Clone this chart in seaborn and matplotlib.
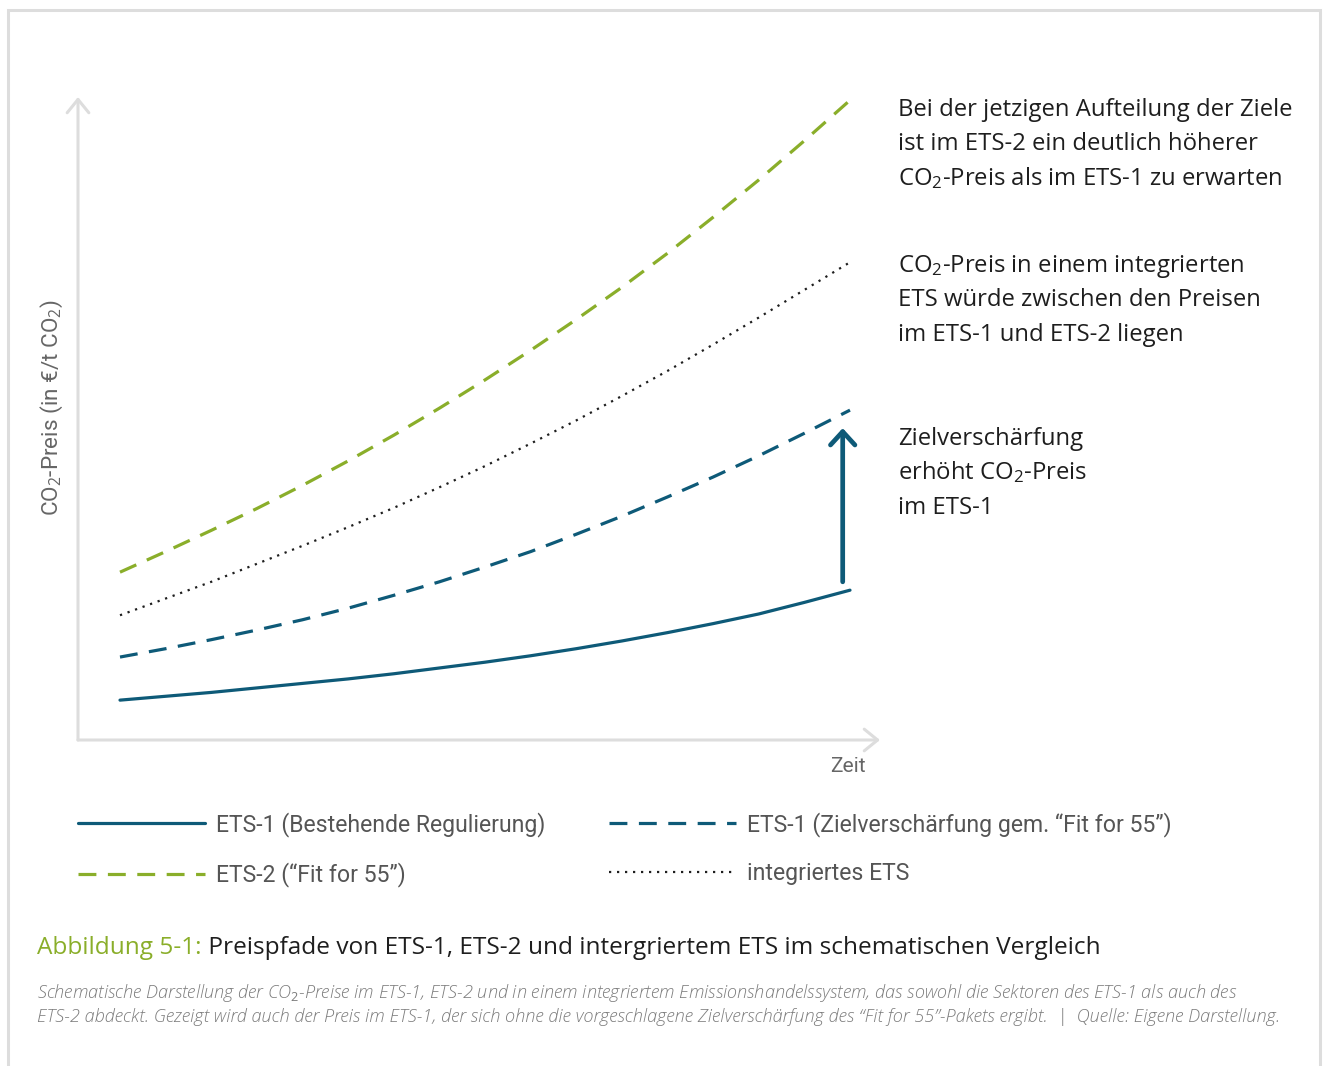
import matplotlib
matplotlib.use("Agg")
import matplotlib.pyplot as plt
import seaborn as sns
from matplotlib.patches import Rectangle

# Schematic price paths (time steps, price in arbitrary units)
zeit = [0, 0.625, 1.25, 1.875, 2.5, 3.125, 3.75, 4.375, 5,
        5.625, 6.25, 6.875, 7.5, 8.125, 8.75, 9.375, 10]
ets1_bestehend = [6.2, 6.8, 7.4, 8.1, 8.8, 9.5, 10.3, 11.2, 12.1,
                  13.1, 14.2, 15.4, 16.7, 18.1, 19.6, 21.4, 23.3]
ets1_fit55 = [12.9, 14.2, 15.6, 17.1, 18.7, 20.5, 22.5, 24.6, 26.9,
              29.3, 32.0, 34.8, 37.8, 40.9, 44.2, 47.7, 51.3]
integriert = [19.4, 22.0, 24.6, 27.4, 30.2, 33.1, 36.1, 39.3, 42.6,
              46.1, 49.7, 53.5, 57.4, 61.5, 65.7, 70.0, 74.3]
ets2_fit55 = [26.1, 29.3, 32.6, 36.0, 39.6, 43.4, 47.4, 51.6, 56.0,
              60.6, 65.4, 70.4, 75.7, 81.3, 87.1, 93.2, 99.5]

labels = [
    "ETS-1 (Bestehende Regulierung)",
    "ETS-2 (\u201cFit for 55\u201d)",
    "ETS-1 (Zielversch\u00e4rfung gem. \u201cFit for 55\u201d)",
    "integriertes ETS",
]

BLAU = "#0e5a78"
GRUEN = "#8aae2a"
SCHWARZ = "#1e1e1e"
GRAU = "#666666"
RAHMEN = "#dddddd"

sns.set_theme(style="white")
plt.rcParams["font.family"] = ["Roboto", "DejaVu Sans"]
plt.rcParams["mathtext.fontset"] = "custom"
plt.rcParams["mathtext.rm"] = "Open Sans"
plt.rcParams["mathtext.it"] = "Open Sans:italic"

W, H = 1324, 1066
fig = plt.figure(figsize=(W / 100, H / 100), dpi=100)
fig.patch.set_facecolor("white")


def fx(px):
    return px / W


def fy(py):
    return 1 - py / H


ax = fig.add_axes([fx(78), fy(740), fx(880) - fx(78), fy(97) - fy(740)])
ax.patch.set_alpha(0)

l_best = sns.lineplot(x=zeit, y=ets1_bestehend, ax=ax, color=BLAU, lw=2.3,
                      label=labels[0], clip_on=False).get_lines()[-1]
l_ets2 = sns.lineplot(x=zeit, y=ets2_fit55, ax=ax, color=GRUEN, lw=2.3,
                      linestyle=(0, (5.6, 3.6)), label=labels[1],
                      clip_on=False).get_lines()[-1]
l_fit = sns.lineplot(x=zeit, y=ets1_fit55, ax=ax, color=BLAU, lw=2.3,
                     linestyle=(0, (5.6, 3.6)), label=labels[2],
                     clip_on=False).get_lines()[-1]
l_int = sns.lineplot(x=zeit, y=integriert, ax=ax, color=SCHWARZ, lw=1.6,
                     linestyle=(0, (1, 2.6)), label=labels[3],
                     clip_on=False).get_lines()[-1]

ax.set_xlim(-42 / 73, 10 + 30 / 73)
ax.set_ylim(0, 100)
ax.set_xticks([])
ax.set_yticks([])
ax.set_xlabel("")
ax.set_ylabel("")
sns.despine(ax=ax, left=True, bottom=True)

# axis arrows
achse = dict(arrowstyle="->,head_length=0.8,head_width=0.65", color=RAHMEN,
             lw=2.2, shrinkA=0, shrinkB=0, mutation_scale=12)
ax.annotate("", xy=(1, 0), xytext=(0, 0), xycoords="axes fraction",
            arrowprops=achse, annotation_clip=False)
ax.annotate("", xy=(0, 1), xytext=(0, 0), xycoords="axes fraction",
            arrowprops=achse, annotation_clip=False)

# arrow: tightening raises the ETS-1 price
x_pfeil = zeit[-1] - 0.1
ax.annotate("", xy=(x_pfeil, ets1_fit55[-1] - 2.8),
            xytext=(x_pfeil, ets1_bestehend[-1] + 1.3),
            arrowprops=dict(arrowstyle="->,head_length=0.6,head_width=0.55",
                            color=BLAU, lw=3.4, shrinkA=0, shrinkB=0,
                            mutation_scale=16, capstyle="round",
                            joinstyle="round"),
            annotation_clip=False)

# legend
leg = ax.legend([l_best, l_ets2, l_fit, l_int], labels, loc="upper left",
                bbox_to_anchor=(fx(78), fy(812)), bbox_transform=fig.transFigure,
                ncol=2, frameon=False, fontsize=16.6, handlelength=5.5,
                handletextpad=0.5, columnspacing=2.75, labelspacing=1.1,
                borderpad=0, borderaxespad=0, labelcolor="#555555")

# axis labels
fig.text(fx(52), fy(408), "CO$_2$-Preis (in \u20ac/t CO$_2$)", rotation=90,
         ha="center", va="center", fontsize=16.2, color=GRAU)
fig.text(fx(848), fy(766), "Zeit", ha="center", va="center", fontsize=15,
         color=GRAU)

# explanations on the right, one text per line
blocks = [
    (["Bei der jetzigen Aufteilung der Ziele",
      "ist im ETS-2 ein deutlich h\u00f6herer",
      "CO$_2$-Preis als im ETS-1 zu erwarten"], 116),
    (["CO$_2$-Preis in einem integrierten",
      "ETS w\u00fcrde zwischen den Preisen",
      "im ETS-1 und ETS-2 liegen"], 272),
    (["Zielversch\u00e4rfung",
      "erh\u00f6ht CO$_2$-Preis",
      "im ETS-1"], 445),
]
for zeilen, y0 in blocks:
    for i, z in enumerate(zeilen):
        fig.text(fx(898), fy(y0 + 34.5 * i), z, fontsize=17.2,
                 family="Open Sans", color=SCHWARZ, va="baseline", ha="left")

# caption
t1 = fig.text(fx(37), fy(948), "Abbildung 5-1:", color=GRUEN, fontsize=17.6,
              family="Open Sans", va="center", ha="left")
ax.annotate(" Preispfade von ETS-1, ETS-2 und intergriertem ETS im "
            "schematischen Vergleich", xy=(1, 0), xycoords=t1,
            va="bottom", ha="left", color=SCHWARZ, fontsize=17.6,
            family="Open Sans", annotation_clip=False)

fuss = dict(fontsize=13.1, family="Open Sans", style="italic",
            weight="light", color="#7c7c7c", va="center", ha="left")
fig.text(fx(37), fy(993),
         "Schematische Darstellung der CO$_2$-Preise im ETS-1, ETS-2 und in "
         "einem integriertem Emissionshandelssystem, das sowohl die Sektoren "
         "des ETS-1 als auch des", **fuss)
fig.text(fx(37), fy(1017),
         "ETS-2 abdeckt. Gezeigt wird auch der Preis im ETS-1, der sich ohne "
         "die vorgeschlagene Zielversch\u00e4rfung des \u201cFit for 55\u201d-"
         "Pakets ergibt.  |  Quelle: Eigene Darstellung.", **fuss)

# frame
fig.add_artist(Rectangle((fx(8), -0.05), fx(1320) - fx(8), fy(10) + 0.05,
                         transform=fig.transFigure, fill=False, ec=RAHMEN,
                         lw=2.2))

fig.savefig("out.png", dpi=100)
